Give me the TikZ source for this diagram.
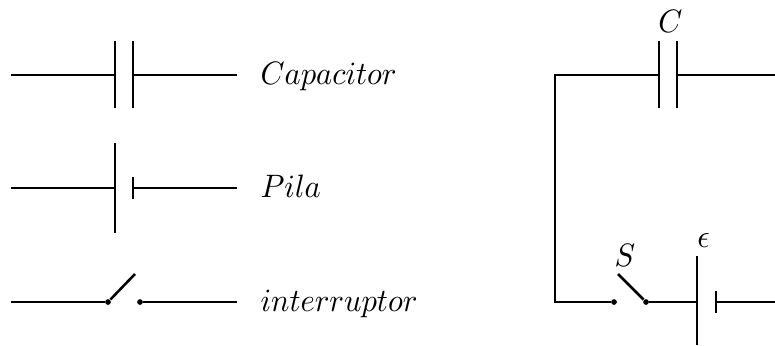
\documentclass[tikz,border=0pt]{standalone}
\usepackage{amsmath}
\usetikzlibrary{positioning}

\begin{document}
\begin{tikzpicture}[x=0.3333pt,y=-0.3333pt,inner sep=0.4mm,
  wire/.style={line width=0.85pt},
  plate/.style={line width=0.75pt},
  contact/.style={circle,fill=black,minimum size=1.9pt,inner sep=0pt},
  label text/.style={anchor=base west,inner sep=0pt,xscale=1.02,yscale=1.08},
  mark text/.style={inner sep=0pt,xscale=1.02,yscale=1.08}]
\useasboundingbox (0,0) rectangle (775,345);
\coordinate (capA) at (11,75);
\coordinate (capB) at (115,75);
\coordinate (capC) at (133,75);
\coordinate (capD) at (237,75);
\coordinate (pilaA) at (11,188);
\coordinate (pilaB) at (115,188);
\coordinate (pilaC) at (133,188);
\coordinate (pilaD) at (237,188);
\coordinate (intA) at (11,302);
\coordinate (intD) at (237,302);
\coordinate (intL) at (135,274);
\coordinate (nw) at (555,75);
\coordinate (sw) at (555,302);
\coordinate (ne) at (775,75);
\coordinate (se) at (775,302);
\coordinate (cirB) at (659,75);
\coordinate (cirC) at (677,75);
\coordinate (batB) at (697,302);
\coordinate (batC) at (716,302);
\coordinate (cirL) at (618,274);

% simbolos
\node (intB) at (108,302)[contact]{};
\node (intC) at (140,302)[contact]{};
\node (cirS) at (614,302)[contact]{};
\node (cirT) at (646,302)[contact]{};

\node (capT) at (260,84)[label text]{$Capacitor$};
\node (pilaT) at (260,197)[label text]{$Pila$};
\node (intT) at (260,311)[label text]{$interruptor$};
\node (labC) at (670.5,21)[mark text]{$C$};
\node (labS) at (625,255)[mark text]{$S$};
\node (labE) at (703.5,241)[mark text]{$\epsilon$};

\draw[wire] (capA)--(capB) (capC)--(capD);
\draw[plate] (115,41)--(115,108) (133,41)--(133,108);

\draw[wire] (pilaA)--(pilaB) (pilaC)--(pilaD);
\draw[plate] (115,143)--(115,233) (133,177)--(133,199);

\draw[wire] (intA)--(intB) (intC)--(intD);
\draw[wire] (intB)--(intL);

% circuito
\draw[wire] (cirB)--(nw)--(sw)--(cirS);
\draw[wire] (cirC)--(ne);
\draw[plate] (659,41)--(659,108) (677,41)--(677,108);
\draw[wire] (cirT)--(cirL);
\draw[wire] (cirT)--(batB) (batC)--(se);
\draw[plate] (697,256)--(697,345) (716,291)--(716,313);

\end{tikzpicture}
\end{document}
